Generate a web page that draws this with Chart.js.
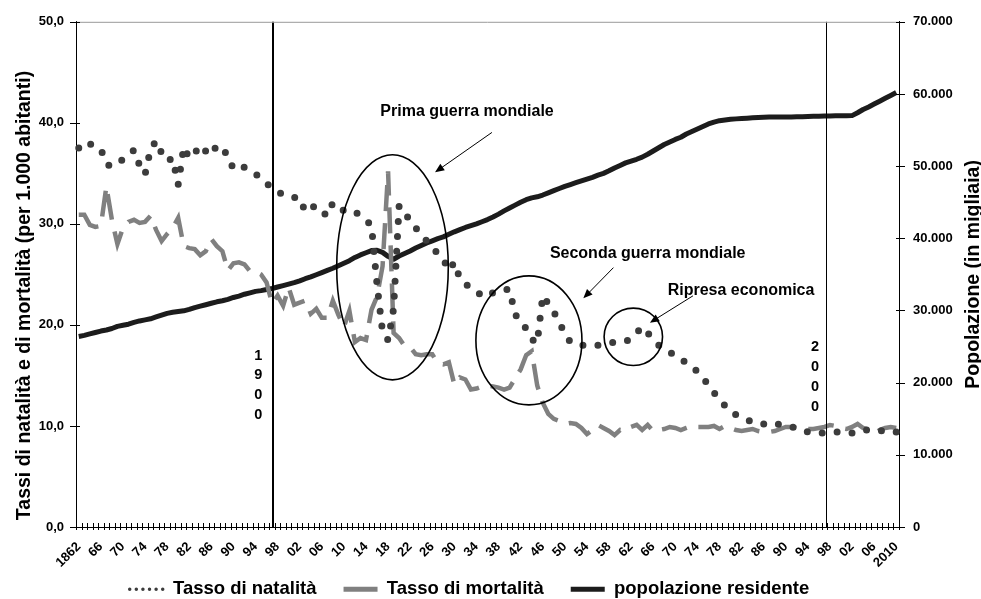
<!DOCTYPE html>
<html lang="it">
<head>
<meta charset="utf-8">
<title>Natalità, mortalità e popolazione residente</title>
<script src="https://cdn.jsdelivr.net/npm/chart.js@4.4.1/dist/chart.umd.min.js"></script>
<style>
  html, body { margin: 0; padding: 0; background: #fff; }
  #wrap { width: 981px; height: 599px; }
</style>
</head>
<body>
<div id="wrap"><canvas id="chart" width="981" height="599"></canvas></div>
<script>
const years = [
  1862, 1863, 1864, 1865, 1866, 1867, 1868, 1869, 1870, 1871,
  1872, 1873, 1874, 1875, 1876, 1877, 1878, 1879, 1880, 1881,
  1882, 1883, 1884, 1885, 1886, 1887, 1888, 1889, 1890, 1891,
  1892, 1893, 1894, 1895, 1896, 1897, 1898, 1899, 1900, 1901,
  1902, 1903, 1904, 1905, 1906, 1907, 1908, 1909, 1910, 1911,
  1912, 1913, 1914, 1915, 1916, 1917, 1918, 1919, 1920, 1921,
  1922, 1923, 1924, 1925, 1926, 1927, 1928, 1929, 1930, 1931,
  1932, 1933, 1934, 1935, 1936, 1937, 1938, 1939, 1940, 1941,
  1942, 1943, 1944, 1945, 1946, 1947, 1948, 1949, 1950, 1951,
  1952, 1953, 1954, 1955, 1956, 1957, 1958, 1959, 1960, 1961,
  1962, 1963, 1964, 1965, 1966, 1967, 1968, 1969, 1970, 1971,
  1972, 1973, 1974, 1975, 1976, 1977, 1978, 1979, 1980, 1981,
  1982, 1983, 1984, 1985, 1986, 1987, 1988, 1989, 1990, 1991,
  1992, 1993, 1994, 1995, 1996, 1997, 1998, 1999, 2000, 2001,
  2002, 2003, 2004, 2005, 2006, 2007, 2008, 2009, 2010
];

// one label every 4 years
const xTickLabels = [
  '1862', '66', '70', '74', '78', '82', '86', '90', '94', '98',
  '02', '06', '10', '14', '18', '22', '26', '30', '34', '38',
  '42', '46', '50', '54', '58', '62', '66', '70', '74', '78',
  '82', '86', '90', '94', '98', '02', '06', '2010'
];

// per 1.000 abitanti
const birthRate = [
  37.5, 38.1, 37.9, 37.7, 37.4, 35.9, 35.7, 35.9, 36.4, 36.9,
  37.3, 35.8, 34.9, 37.4, 38.2, 37.0, 36.2, 36.5, 33.9, 37.6,
  36.5, 37.0, 37.8, 37.2, 36.8, 37.8, 37.4, 36.8, 35.4, 35.6,
  35.6, 35.2, 34.9, 34.6, 34.0, 33.6, 33.2, 32.9, 32.7, 32.6,
  32.6, 31.2, 31.6, 31.8, 31.2, 30.8, 32.1, 31.7, 31.3, 31.1,
  31.2, 30.8, 30.4, 29.8, 24.0, 19.3, 18.5, 21.6, 31.8, 30.9,
  30.5, 29.6, 29.0, 28.3, 27.8, 27.0, 26.5, 25.4, 26.2, 24.6,
  24.1, 23.6, 23.3, 22.9, 22.8, 23.2, 23.4, 23.5, 23.5, 21.0,
  20.5, 19.6, 18.6, 18.2, 22.9, 22.1, 21.3, 20.2, 19.2, 18.3,
  18.1, 18.0, 18.0, 18.0, 18.0, 18.1, 18.2, 18.3, 18.4, 18.4,
  18.6, 19.2, 19.8, 19.2, 18.6, 18.0, 17.6, 17.3, 17.0, 16.7,
  16.2, 15.8, 15.4, 14.8, 14.0, 13.3, 12.6, 12.0, 11.4, 11.1,
  10.9, 10.6, 10.4, 10.2, 10.2, 10.3, 10.3, 10.1, 10.0, 9.9,
  9.8, 9.6, 9.4, 9.3, 9.3, 9.3, 9.4, 9.4, 9.4, 9.3,
  9.3, 9.4, 9.6, 9.6, 9.5, 9.5, 9.6, 9.5, 9.4
];

const deathRate = [
  30.9, 30.9, 29.9, 29.7, 29.8, 33.7, 30.4, 28.0, 29.6, 30.2,
  30.4, 30.1, 30.2, 30.8, 29.4, 28.3, 29.0, 29.6, 30.6, 27.8,
  27.6, 27.5, 26.9, 27.3, 28.5, 27.8, 27.3, 25.4, 26.1, 26.2,
  26.0, 25.3, 25.3, 25.0, 24.2, 22.1, 22.9, 21.9, 23.7, 22.0,
  22.2, 22.4, 21.1, 21.6, 20.7, 20.7, 22.4, 21.0, 19.8, 21.4,
  18.3, 18.7, 18.5, 21.5, 22.8, 25.8, 35.2, 19.2, 18.7, 17.9,
  17.8, 17.1, 17.0, 17.1, 17.1, 16.2, 16.1, 16.3, 14.1, 14.8,
  14.6, 13.6, 13.7, 13.9, 14.0, 13.9, 13.8, 13.6, 13.8, 14.7,
  15.6, 17.0, 17.4, 14.0, 12.3, 11.2, 10.7, 10.5, 10.2, 10.3,
  10.2, 9.8, 9.2, 9.6, 10.1, 9.8, 9.5, 9.1, 9.6, 9.5,
  9.9, 10.1, 9.6, 10.1, 9.5, 9.6, 9.7, 9.9, 9.8, 9.6,
  9.8, 10.0, 9.9, 9.9, 9.9, 10.0, 9.7, 10.0, 9.8, 9.6,
  9.5, 9.6, 9.7, 9.5, 9.4, 9.4, 9.5, 9.7, 9.9, 9.9,
  9.8, 9.7, 9.7, 9.7, 9.8, 9.9, 10.1, 10.0, 9.8, 9.7,
  9.9, 10.2, 9.8, 9.6, 9.2, 9.6, 9.8, 9.9, 9.8
];

// in migliaia
const population = [
  26400, 26550, 26750, 26950, 27150, 27300, 27500, 27800, 27950, 28100,
  28350, 28550, 28700, 28850, 29100, 29350, 29600, 29750, 29850, 29950,
  30150, 30400, 30600, 30800, 31000, 31200, 31350, 31550, 31800, 32000,
  32250, 32450, 32650, 32750, 32900, 33050, 33250, 33450, 33650, 33850,
  34100, 34400, 34650, 34950, 35250, 35550, 35850, 36200, 36550, 36900,
  37350, 37700, 38000, 38300, 38350, 38050, 37500, 37100, 37550, 37900,
  38250, 38650, 39000, 39350, 39650, 39950, 40200, 40550, 40900, 41200,
  41500, 41750, 42000, 42300, 42600, 42950, 43350, 43800, 44200, 44600,
  45000, 45350, 45600, 45750, 46000, 46300, 46600, 46900, 47200, 47450,
  47700, 47950, 48200, 48450, 48750, 49000, 49350, 49750, 50100, 50450,
  50700, 50950, 51250, 51650, 52100, 52550, 53000, 53350, 53700, 54000,
  54450, 54800, 55150, 55500, 55850, 56100, 56300, 56400, 56500, 56550,
  56600, 56650, 56700, 56750, 56780, 56800, 56800, 56800, 56800, 56820,
  56840, 56860, 56880, 56900, 56920, 56940, 56960, 56970, 56980, 56990,
  57000, 57400, 57850, 58200, 58600, 59000, 59400, 59800, 60200
];

const FONT = '"Liberation Sans", Arial, sans-serif';

// callouts, placed in data units (year, value on the left axis)
const ellipses = [
  { year: 1918.8, value: 25.7, rYears: 10.1, rValue: 11.14 },
  { year: 1943.5, value: 18.47, rYears: 9.6, rValue: 6.38 },
  { year: 1962.4, value: 18.82, rYears: 5.29, rValue: 2.84 }
];
const captions = [
  { text: 'Prima guerra mondiale', year: 1932.3, value: 41.1 },
  { text: 'Seconda guerra mondiale', year: 1965.0, value: 27.1 },
  { text: 'Ripresa economica', year: 1981.9, value: 23.44 }
];
const arrows = [
  { from: [1936.8, 39.05], to: [1926.5, 35.11] },
  { from: [1958.8, 25.67], to: [1953.35, 22.63] },
  { from: [1973.2, 22.88], to: [1965.4, 20.22] }
];
const markers = [
  { label: '1900', year: 1897.2, width: 2, textYear: 1894.5, textValue: 16.96 },
  { label: '2000', year: 1997.2, width: 1, textYear: 1995.3, textValue: 17.78 }
];

const fmtRate = v => v.toFixed(1).replace('.', ',');
const fmtPop = v => String(v).replace(/\B(?=(\d{3})+(?!\d))/g, '.');

const legendLines = [
  { width: 3.5, dash: [0, 6.6], cap: 'round' },
  { width: 5, dash: [], cap: 'butt' },
  { width: 5, dash: [], cap: 'butt' }
];

const overlay = {
  id: 'overlay',
  afterLayout(chart) {
    // legend sits a bit left of centre and closer to the axis labels
    const lg = chart.legend;
    lg.left -= 21;
    lg.right -= 21;
    lg.top -= 22;
  },
  afterDatasetsDraw(chart) {
    const { ctx, chartArea: area, scales: { x, y } } = chart;
    const px = yr => x.getPixelForValue(yr - years[0]);
    const py = v => y.getPixelForValue(v);
    ctx.save();

    // vertical marker lines
    markers.forEach(m => {
      const mx = Math.round(px(m.year)) + (m.width === 1 ? 0.5 : 0);
      ctx.strokeStyle = '#000';
      ctx.lineWidth = m.width;
      ctx.beginPath();
      ctx.moveTo(mx, area.top);
      ctx.lineTo(mx, area.bottom);
      ctx.stroke();
      ctx.fillStyle = '#000';
      ctx.font = 'bold 14.5px ' + FONT;
      ctx.textAlign = 'center';
      ctx.textBaseline = 'middle';
      m.label.split('').forEach((ch, i) => {
        ctx.fillText(ch, px(m.textYear), py(m.textValue) + i * 19.8);
      });
    });

    // ellipses
    ctx.strokeStyle = '#000';
    ctx.lineWidth = 1.6;
    ellipses.forEach(e => {
      const cx = px(e.year), cy = py(e.value);
      const rx = Math.abs(px(e.year + e.rYears) - cx);
      const ry = Math.abs(py(e.value + e.rValue) - cy);
      ctx.beginPath();
      ctx.ellipse(cx, cy, rx, ry, 0, 0, Math.PI * 2);
      ctx.stroke();
    });

    // arrows
    arrows.forEach(a => {
      const x1 = px(a.from[0]), y1 = py(a.from[1]);
      const x2 = px(a.to[0]), y2 = py(a.to[1]);
      const ang = Math.atan2(y2 - y1, x2 - x1);
      ctx.lineWidth = 1;
      ctx.beginPath();
      ctx.moveTo(x1, y1);
      ctx.lineTo(x2 - Math.cos(ang) * 6, y2 - Math.sin(ang) * 6);
      ctx.stroke();
      ctx.fillStyle = '#000';
      ctx.beginPath();
      ctx.moveTo(x2, y2);
      ctx.lineTo(x2 - Math.cos(ang - 0.4) * 10, y2 - Math.sin(ang - 0.4) * 10);
      ctx.lineTo(x2 - Math.cos(ang + 0.4) * 10, y2 - Math.sin(ang + 0.4) * 10);
      ctx.closePath();
      ctx.fill();
    });

    // captions
    ctx.font = 'bold 16px ' + FONT;
    ctx.textAlign = 'center';
    ctx.textBaseline = 'middle';
    ctx.fillStyle = '#000';
    captions.forEach(c => ctx.fillText(c.text, px(c.year), py(c.value)));
    ctx.restore();
  },
  afterDraw(chart) {
    const { ctx, chartArea: area, scales: { x, y, y1 } } = chart;
    ctx.save();
    // top frame line
    ctx.strokeStyle = '#999';
    ctx.lineWidth = 1;
    ctx.beginPath();
    ctx.moveTo(area.left, area.top + 0.5);
    ctx.lineTo(area.right, area.top + 0.5);
    ctx.stroke();

    // cross tick marks
    ctx.strokeStyle = '#000';
    ctx.beginPath();
    for (let i = 0; i <= years.length; i++) {
      const tx = Math.round(x.getPixelForValue(i - 0.5)) + 0.5;
      ctx.moveTo(tx, area.bottom - 4);
      ctx.lineTo(tx, area.bottom + 3);
    }
    y.ticks.forEach(t => {
      const ty = Math.round(y.getPixelForValue(t.value)) + 0.5;
      ctx.moveTo(area.left - 6, ty);
      ctx.lineTo(area.left + 4, ty);
    });
    y1.ticks.forEach(t => {
      const ty = Math.round(y1.getPixelForValue(t.value)) + 0.5;
      ctx.moveTo(area.right - 3, ty);
      ctx.lineTo(area.right + 6, ty);
    });
    ctx.stroke();

    // axis titles, both reading bottom to top
    ctx.fillStyle = '#000';
    ctx.font = 'bold 19.5px ' + FONT;
    ctx.textAlign = 'center';
    ctx.textBaseline = 'alphabetic';
    ctx.translate(29.5, 295.5);
    ctx.rotate(-Math.PI / 2);
    ctx.fillText('Tassi di natalità e di mortalità (per 1.000 abitanti)', 0, 0);
    ctx.setTransform(1, 0, 0, 1, 0, 0);
    ctx.translate(979, (area.top + area.bottom) / 2);
    ctx.rotate(-Math.PI / 2);
    ctx.fillText('Popolazione (in migliaia)', 0, 0);
    ctx.restore();
  }
};

new Chart(document.getElementById('chart'), {
  type: 'line',
  data: {
    labels: years,
    datasets: [
      {
        label: 'Tasso di natalità',
        data: birthRate,
        yAxisID: 'y',
        borderColor: '#3c3c3c',
        backgroundColor: '#3c3c3c',
        borderWidth: 7,
        borderDash: [0, 15],
        borderCapStyle: 'round',
        pointRadius: 0,
        tension: 0
      },
      {
        label: 'Tasso di mortalità',
        data: deathRate,
        yAxisID: 'y',
        borderColor: '#808080',
        backgroundColor: '#808080',
        borderWidth: 4.5,
        borderDash: [26, 12],
        borderCapStyle: 'butt',
        pointRadius: 0,
        tension: 0
      },
      {
        label: 'popolazione residente',
        data: population,
        yAxisID: 'y1',
        borderColor: '#1c1c1c',
        backgroundColor: '#1c1c1c',
        borderWidth: 5,
        borderJoinStyle: 'round',
        pointRadius: 0,
        tension: 0
      }
    ]
  },
  options: {
    responsive: false,
    animation: false,
    devicePixelRatio: 1,
    layout: { padding: { top: 20, left: 0, right: 0, bottom: 0 } },
    plugins: {
      tooltip: { enabled: false },
      legend: {
        position: 'bottom',
        maxHeight: 24,
        labels: {
          usePointStyle: true,
          pointStyleWidth: 34,
          padding: 27,
          color: '#000',
          font: { family: FONT, size: 18.5, weight: 'bold' },
          generateLabels: chart => chart.data.datasets.map((ds, i) => ({
            text: ds.label,
            datasetIndex: i,
            fontColor: '#000',
            fillStyle: ds.borderColor,
            strokeStyle: ds.borderColor,
            lineWidth: legendLines[i].width,
            lineDash: legendLines[i].dash,
            lineCap: legendLines[i].cap,
            pointStyle: 'line',
            hidden: false
          }))
        }
      }
    },
    scales: {
      x: {
        type: 'category',
        offset: true,
        grid: { drawOnChartArea: false, drawTicks: false },
        border: { color: '#000', width: 1 },
        ticks: {
          autoSkip: false,
          minRotation: 45,
          maxRotation: 45,
          padding: 12,
          color: '#000',
          font: { family: FONT, size: 13, weight: 'bold' },
          callback: (v, i) => (i % 4 === 0 ? xTickLabels[i / 4] : '')
        },
        afterFit: s => { s.height = 48; }
      },
      y: {
        position: 'left',
        min: 0,
        max: 50,
        grid: { drawOnChartArea: false, drawTicks: false },
        border: { color: '#000', width: 1 },
        ticks: {
          stepSize: 10,
          padding: 12,
          color: '#000',
          font: { family: FONT, size: 13, weight: 'bold' },
          callback: v => fmtRate(v)
        },
        afterFit: s => { s.width = 76; }
      },
      y1: {
        position: 'right',
        min: 0,
        max: 70000,
        grid: { drawOnChartArea: false, drawTicks: false },
        border: { color: '#000', width: 1 },
        ticks: {
          stepSize: 10000,
          padding: 14,
          color: '#000',
          font: { family: FONT, size: 13, weight: 'bold' },
          callback: v => fmtPop(v)
        },
        afterFit: s => { s.width = 82; }
      }
    }
  },
  plugins: [overlay]
});
</script>
</body>
</html>
